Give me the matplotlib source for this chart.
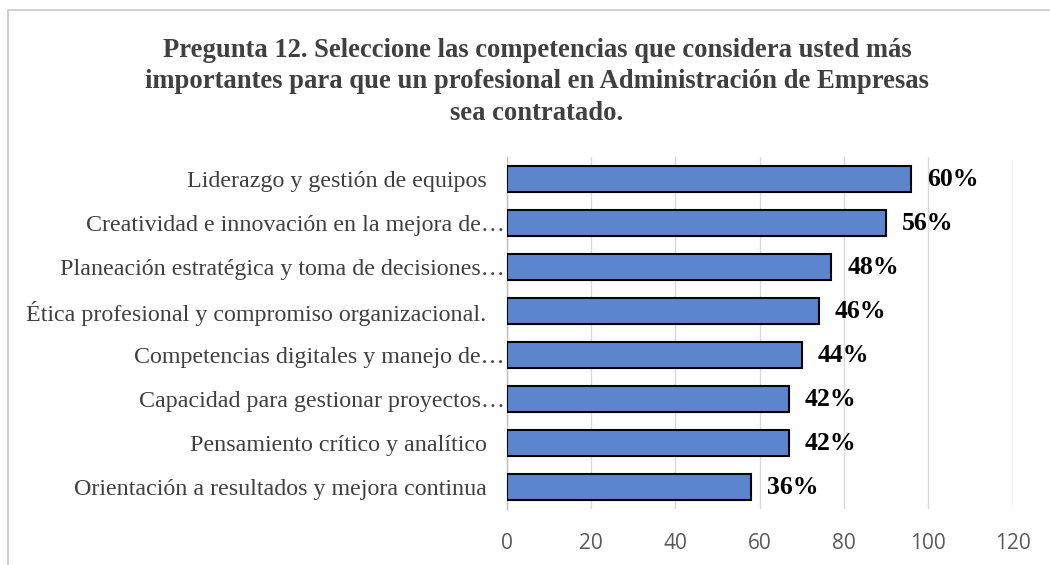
import matplotlib
matplotlib.use("Agg")
import matplotlib.pyplot as plt
from matplotlib.patches import Rectangle

# Datos
competencias = [
    "Liderazgo y gestión de equipos   ",
    "Creatividad e innovación en la mejora de…",
    "Planeación estratégica y toma de decisiones…",
    "Ética profesional y compromiso organizacional.   ",
    "Competencias digitales y manejo de…",
    "Capacidad para gestionar proyectos…",
    "Pensamiento crítico y analítico   ",
    "Orientación a resultados y mejora continua   ",
]
frecuencias = [96, 90, 77, 74, 70, 67, 67, 58]
porcentajes = [60, 56, 48, 46, 44, 42, 42, 36]
ticks_x = [0, 20, 40, 60, 80, 100, 120]

titulo = ("Pregunta 12. Seleccione las competencias que considera usted más\n"
          "importantes para que un profesional en Administración de Empresas\n"
          "sea contratado.")

fig = plt.figure(figsize=(10.5, 5.65), dpi=100)
ax = fig.add_axes([0.4826, 0.0991, 0.4817, 0.6230])

# Marco del área del gráfico
fig.patches.append(Rectangle((8 / 1050, -0.1), 1.2, 1 - 10 / 565 + 0.1,
                             transform=fig.transFigure, fill=False,
                             edgecolor="#c8c8c8", linewidth=1.2))

y = list(range(len(competencias)))
bars = ax.barh(y, frecuencias, height=0.61, color="#5B86CE",
               edgecolor="black", linewidth=1.5, zorder=3)

for bar, p in zip(bars, porcentajes):
    ax.annotate(f"{p}%", xy=(bar.get_width(), bar.get_y() + bar.get_height() / 2),
                xytext=(11.5, 0), textcoords="offset points",
                ha="left", va="center", fontsize=18.5, fontweight="bold",
                family="Liberation Serif", color="black", zorder=4)

ax.set_xlim(0, 120)
ax.set_ylim(7.5, -0.5)
ax.set_xticks(ticks_x)
ax.set_yticks(y)
ax.set_yticklabels(competencias, family="Liberation Serif", fontsize=17.25,
                   color="#404040")
for lbl in ax.get_xticklabels():
    lbl.set_family("Open Sans")
    lbl.set_fontsize(15)
    lbl.set_color("#595959")
ax.tick_params(axis="x", length=0, pad=17)
ax.tick_params(axis="y", length=0, pad=1.5)

ax.grid(axis="x", color="#d9d9d9", linewidth=1, zorder=0)
for s in ["top", "right", "bottom"]:
    ax.spines[s].set_visible(False)
ax.spines["left"].set_color("#bfbfbf")
ax.spines["left"].set_linewidth(1)

fig.text(537 / 1050, 1 - 38 / 565, titulo, ha="center", va="top",
         family="Liberation Serif", fontweight="bold", fontsize=19.2,
         color="#404040", linespacing=1.33)

fig.savefig("out.png", dpi=100, facecolor="white")
